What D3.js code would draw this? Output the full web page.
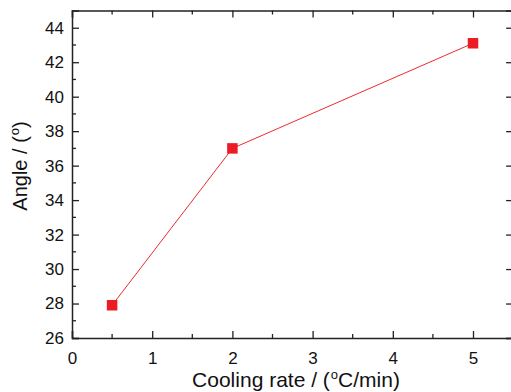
<!DOCTYPE html>
<html>
<head>
<meta charset="utf-8">
<script src="https://cdn.jsdelivr.net/npm/d3@7"></script>
<style>
    body { margin: 0; background: #fff; }
    svg text { font-family: "Liberation Sans", Arial, sans-serif; fill: #111; }
</style>
</head>
<body>
<div id="chart"></div>
<script>
// data
let coolingRate = [0.5, 2, 5];
let angle = [27.9, 37.0, 43.1];
let xTicks = [0, 1, 2, 3, 4, 5];
let yTicks = [26, 28, 30, 32, 34, 36, 38, 40, 42, 44];

let width = 511, height = 392;
let margin = {top: 10.5, left: 72, bottom: 54};

let svg = d3.select("#chart")
    .append("svg")
    .attr("width", width)
    .attr("height", height);

// x goes to 5.5, right border falls just outside the window
let x = d3.scaleLinear()
    .domain([0, 5.5])
    .range([margin.left, margin.left + 5.5 * 80.2]);

let y = d3.scaleLinear()
    .domain([26, 45])
    .range([height - margin.bottom, margin.top]);

let x0 = x.range()[0], x1 = x.range()[1];
let y0 = y.range()[0], y1 = y.range()[1];

// minor ticks
let xMinor = d3.range(0.5, 5.5, 1);
let yMinor = d3.range(27, 45, 2);

let axisColor = "#222";

// bottom axis
let gx = svg.append("g")
    .attr("transform", "translate(0," + y0 + ")")
    .call(d3.axisBottom(x).tickValues(xTicks).tickSize(-7).tickPadding(14).tickFormat(d3.format("d")));
gx.append("g").selectAll("line")
    .data(xMinor).join("line")
    .attr("x1", d => x(d)).attr("x2", d => x(d))
    .attr("y1", 0).attr("y2", -4);

// top axis
let gxTop = svg.append("g")
    .attr("transform", "translate(0," + y1 + ")")
    .call(d3.axisTop(x).tickValues(xTicks).tickSize(-7).tickFormat(""));
gxTop.append("g").selectAll("line")
    .data(xMinor).join("line")
    .attr("x1", d => x(d)).attr("x2", d => x(d))
    .attr("y1", 0).attr("y2", 4);

// left axis
let gy = svg.append("g")
    .attr("transform", "translate(" + x0 + ",0)")
    .call(d3.axisLeft(y).tickValues(yTicks).tickSize(-7).tickPadding(8));
gy.append("g").selectAll("line")
    .data(yMinor).join("line")
    .attr("y1", d => y(d)).attr("y2", d => y(d))
    .attr("x1", 0).attr("x2", 4);

// right axis (mostly off the window)
let gyRight = svg.append("g")
    .attr("transform", "translate(" + x1 + ",0)")
    .call(d3.axisRight(y).tickValues(yTicks).tickSize(-7).tickFormat(""));

svg.selectAll(".domain").attr("stroke", axisColor).attr("stroke-width", 1.5);
svg.selectAll(".tick line").attr("stroke", axisColor).attr("stroke-width", 1.3);
svg.selectAll("g g line").attr("stroke", axisColor).attr("stroke-width", 1.3);
svg.selectAll(".tick text").attr("font-size", 17).attr("font-family", "Liberation Sans, Arial, sans-serif").attr("fill", "#111");

// line + markers
let pts = coolingRate.map((d, i) => ({x: d, y: angle[i]}));

let line = d3.line()
    .x(function (d) { return x(d.x); })
    .y(function (d) { return y(d.y); });

svg.append("path")
    .datum(pts)
    .attr("fill", "none")
    .attr("stroke", "#ee2a2f")
    .attr("stroke-width", 1)
    .attr("d", line);

let s = 10.5;
svg.selectAll(".pt")
    .data(pts).join("rect")
    .attr("class", "pt")
    .attr("x", d => x(d.x) - s / 2)
    .attr("y", d => y(d.y) - s / 2)
    .attr("width", s).attr("height", s)
    .attr("fill", "#ec1c24");

// axis titles
let xt = svg.append("text")
    .attr("x", 296).attr("y", 387)
    .attr("text-anchor", "middle")
    .attr("font-size", 21);
xt.append("tspan").text("Cooling rate / (");
xt.append("tspan").attr("font-size", 13).attr("dy", -8).attr("dx", 1).text("o");
xt.append("tspan").attr("dy", 8).text("C/min)");

let yt = svg.append("text")
    .attr("transform", "translate(27,166) rotate(-90)")
    .attr("text-anchor", "middle")
    .attr("font-size", 20);
yt.append("tspan").text("Angle / (");
yt.append("tspan").attr("font-size", 13).attr("dy", -8).attr("dx", 1).text("o");
yt.append("tspan").attr("dy", 8).text(")");
</script>
</body>
</html>
